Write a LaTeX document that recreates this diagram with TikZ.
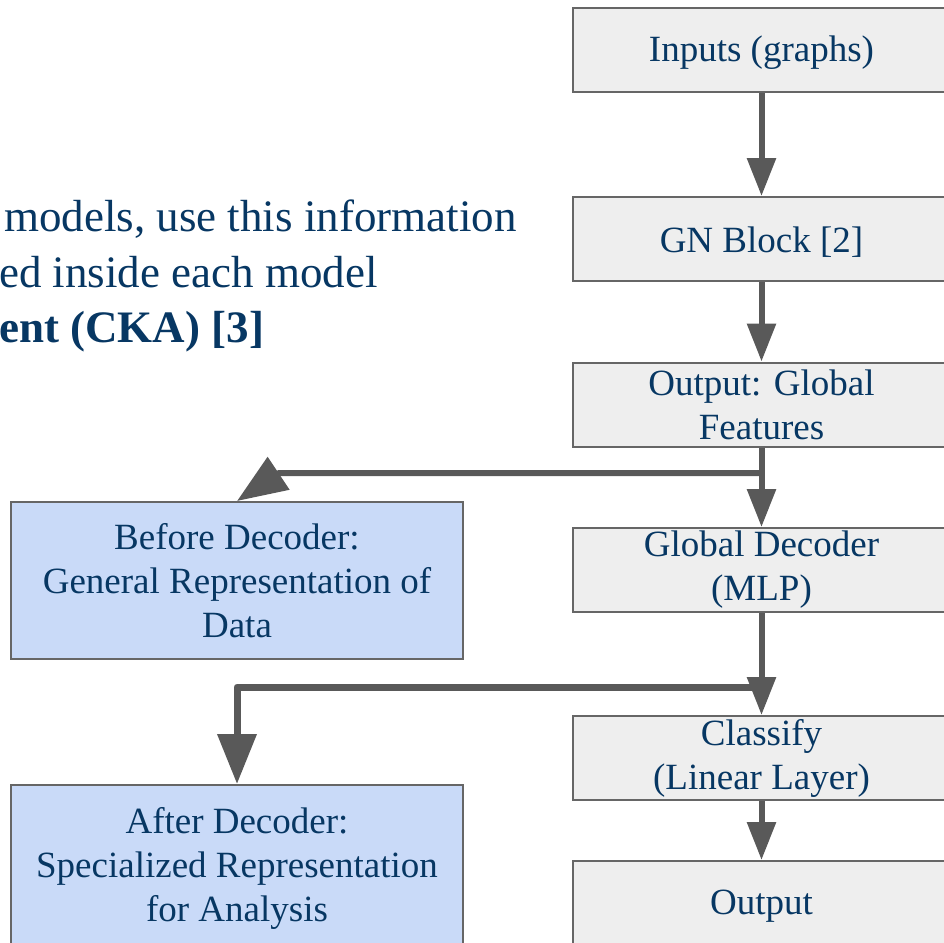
\documentclass[tikz,border=0pt]{standalone}
\usepackage{fontspec}
\setmainfont{Liberation Serif}
\usetikzlibrary{arrows.meta}
\definecolor{txtblue}{HTML}{073763}
\definecolor{boxgray}{HTML}{EEEEEE}
\definecolor{boxblue}{HTML}{C9DAF8}
\definecolor{edgegray}{HTML}{666666}
\definecolor{arrowgray}{HTML}{595959}

\begin{document}
\begin{tikzpicture}[x=1pt,y=-1pt,
  stage/.style={draw=edgegray, line width=2pt, fill=boxgray,
    minimum width=377pt, minimum height=84pt, inner sep=0pt,
    align=center, text=txtblue, font=\fontsize{37}{44}\selectfont},
  oneline/.style={text height=31.5pt},
  probe/.style={stage, fill=boxblue, minimum width=452pt},
  flow/.style={draw=arrowgray, line width=6pt,
    -{Triangle[length=38pt,width=28pt]}},
  branch/.style={draw=arrowgray, line width=7pt, line join=round,
    -{Triangle[length=50pt,width=38pt]}},
  note/.style={anchor=base west, inner sep=0pt, text=txtblue,
    font=\fontsize{45}{56}\selectfont}
]
\useasboundingbox (0,0) rectangle (944,942);

% explanatory text, running off the left edge
\node[note] (n1) at (4,231) {models, use this information};
\node[note] (n2) at (-1,287) {ed inside each model};
\node[note, font=\fontsize{45}{56}\selectfont\bfseries] (n3) at (-1,342) {ent (CKA) [3]};

% main pipeline
\node[stage, oneline] (in)  at (761.5,50)  {Inputs (graphs)};
\node[stage, oneline] (gn)  at (761.5,239) {GN Block [2]};
\node[stage] (og)  at (761.5,404.5) {Output: Global\\Features};
\node[stage] (gd)  at (761.5,570) {Global Decoder\\(MLP)};
\node[stage] (cl)  at (761.5,758) {Classify\\(Linear Layer)};
\node[stage, oneline] (out) at (761.5,903) {Output};

% representations taken from the pipeline
\node[probe, minimum height=157pt] (bd) at (237,580.5)
  {Before Decoder:\\General Representation of\\Data};
\node[probe, minimum height=166pt] (ad) at (237,868)
  {After Decoder:\\Specialized Representation\\for Analysis};

% connectors
\draw[flow] (in.south) -- (gn.north);
\draw[flow] (gn.south) -- (og.north);
\draw[flow] (og.south) -- (gd.north);
\coordinate (j1) at (761.5,473);
\coordinate (k1) at (279,473);
\draw[branch, line width=6pt] (j1) -- (k1) -- (bd.north);
\draw[flow] (gd.south) -- (cl.north);
\coordinate (j2) at (761.5,687);
\draw[branch] (j2) -| (ad.north);
\draw[flow] (cl.south) -- (out.north);
\end{tikzpicture}
\end{document}
